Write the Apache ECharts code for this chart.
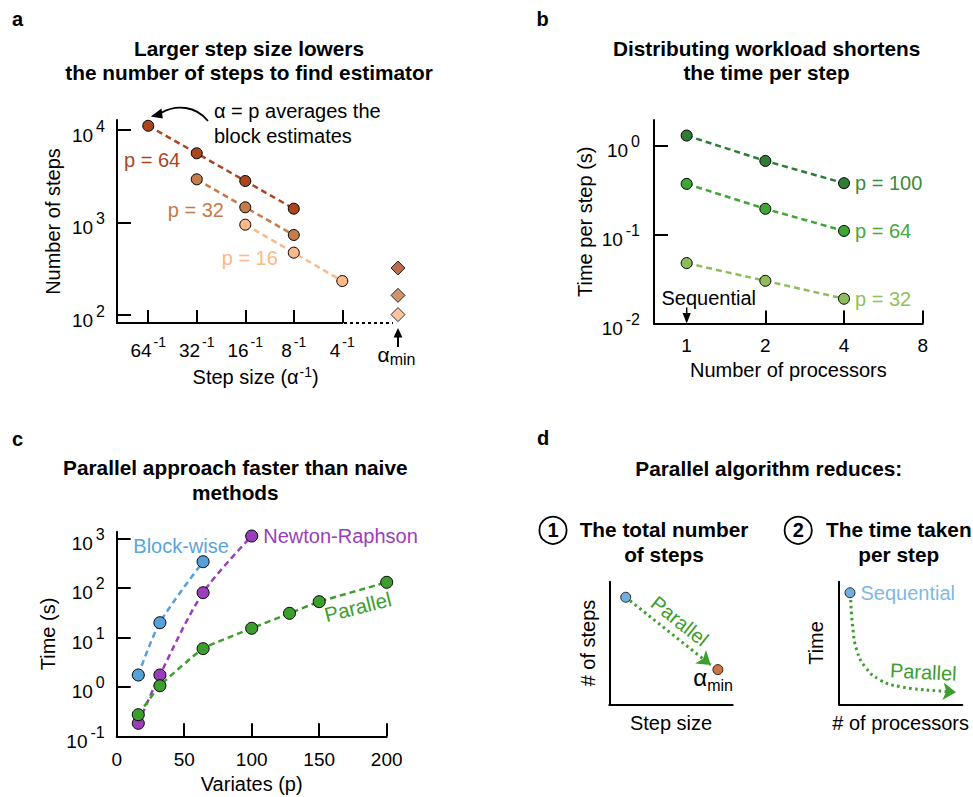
<!DOCTYPE html>
<html><head><meta charset="utf-8">
<script src="https://cdn.jsdelivr.net/npm/echarts@6.0.0/dist/echarts.min.js"></script>
<style>html,body{margin:0;padding:0;background:#fff}#chart{width:973px;height:797px}</style>
</head><body><div id="chart"></div>
<script>
// ---------------- data ----------------
// panel a : number of steps vs step size
const stepTicks = [1/64, 1/32, 1/16, 1/8, 1/4];
const yTicksA = [100, 1000, 10000];
const stepP64 = [1/64, 1/32, 1/16, 1/8];
const nStepsP64 = [11100, 5600, 2810, 1410];
const stepP32 = [1/32, 1/16, 1/8];
const nStepsP32 = [2930, 1460, 733];
const stepP16 = [1/16, 1/8, 1/4];
const nStepsP16 = [947, 472, 233];
const alphaMinStep = 0.554;              // where α_min is placed on the step axis
const alphaMinSteps = [322, 163, 101];   // p = 64, 32, 16
// panel b : time per step vs processors
const procTicks = [1, 2, 4, 8];
const yTicksB = [0.01, 0.1, 1];
const processors = [1, 2, 4];
const tpsP100 = [1.30, 0.674, 0.379];
const tpsP64 = [0.372, 0.195, 0.110];
const tpsP32 = [0.0478, 0.0302, 0.0190];
// panel c : time vs variates
const variateTicks = [0, 50, 100, 150, 200];
const yTicksC = [0.1, 1, 10, 100, 1000];
const blockP = [16, 32, 64];
const blockT = [1.73, 19.7, 336];
const nrP = [16, 32, 64, 100];
const nrT = [0.183, 1.73, 79.6, 1110];
const parP = [16, 32, 64, 100, 128, 150, 200];
const parT = [0.273, 1.05, 5.9, 15.2, 30.5, 52.4, 129];
// panel d : schematics on unit axes
const d1Points = [[0.133, 0.873], [0.880, 0.283]];
const d1Arrow = [[0.168, 0.845], [0.822, 0.321]];
const d2Dot = [[0.089, 0.910]];
const d2Curve = [[0.095,0.851],[0.111,0.633],[0.144,0.443],[0.211,0.307],[0.333,0.198],[0.495,0.144],[0.711,0.117]];
const d2ArrowTip = [0.949, 0.098];

// ---------------- style ----------------
const FONT = '"Liberation Sans", Arial, Helvetica, sans-serif';
const A_DARK = '#a9461d', A_MID = '#c57b4a', A_LIGHT = '#fbb888';
const B_DARK = '#2f7d34', B_MID = '#3ea635', B_LIGHT = '#8ebc5b';
const C_BLUE = '#56a2d8', C_PURPLE = '#9a3dbd', C_GREEN = '#3c9e2c';
const D_BLUE = '#4f9ad2', D_ORANGE = '#c0501d', D_GREEN = '#3c9e2c';
const log10 = Math.log10, log2 = Math.log2;
const zip = (xs, ys, fx, fy) => xs.map((x, i) => [fx(x), fy(ys[i])]);
const tk = (t) => ({ fontFamily: FONT, color: '#000', ...t });

const supY = { b: tk({ fontSize: 19, padding: [10, 0, 0, 0] }), s: tk({ fontSize: 16, padding: [0, 0, 8, 3] }) };
const supX = { b: tk({ fontSize: 19 }), s: tk({ fontSize: 14, padding: [0, 0, 17, 2] }) };
const pow10Fmt = v => `{b|10}{s|${Math.round(v)}}`;

function axis(o) {
  return {
    type: 'value', gridIndex: o.g, min: o.min, max: o.max, position: o.pos,
    axisLine: { show: true, onZero: false, lineStyle: { color: '#000', width: 2 } },
    axisTick: { show: !!o.ticks, inside: true, length: o.tl || 13, customValues: o.ticks,
      lineStyle: { color: '#000', width: 2 } },
    axisLabel: { show: !!o.labels, customValues: o.labels, formatter: o.fmt, margin: o.margin,
      color: '#000', fontSize: 19, fontFamily: FONT, rich: o.rich, hideOverlap: false },
    splitLine: { show: false }, splitArea: { show: false },
    name: o.name, nameLocation: 'middle', nameGap: o.gap, nameMoveOverlap: false,
    nameTextStyle: Object.assign({ color: '#000', fontSize: 20, fontFamily: FONT }, o.nts || {}),
    silent: true
  };
}

function lineS(g, data, color, extra) {
  return Object.assign({
    type: 'line', xAxisIndex: g, yAxisIndex: g, data, clip: false,
    symbol: 'circle', symbolSize: 11, showSymbol: true, silent: true, animation: false,
    lineStyle: { color, width: 2.5, type: [6, 4] },
    itemStyle: { color, borderColor: '#000', borderWidth: 1 },
    emphasis: { disabled: true }
  }, extra || {});
}
function endLabel(text, color, n) {
  return { label: { show: true, position: 'right', distance: 5, color, fontSize: 20, fontFamily: FONT,
    formatter: p => (p.dataIndex === n - 1 ? text : '') } };
}

const xAxes = [
  axis({ g: 0, pos: 'bottom', min: log2(0.01), max: log2(0.25), ticks: stepTicks.map(log2), labels: stepTicks.map(log2),
    fmt: v => `{b|${Math.round(Math.pow(2, -v))}}{s|-1}`, rich: supX, margin: 11.5, tl: 13,
    name: '{n|Step size (α}{s|-1}{n|)}', gap: 42,
    nts: { padding: [0, 0, 0, 52], rich: { n: tk({ fontSize: 20 }), s: tk({ fontSize: 14, padding: [0, 0, 10, 1] }) } } }),
  axis({ g: 1, pos: 'bottom', min: log2(0.75), max: 3, ticks: [2, 4, 8].map(log2), labels: procTicks.map(log2),
    fmt: v => String(Math.round(Math.pow(2, v))), margin: 12, tl: 13, name: 'Number of processors', gap: 36.5 }),
  axis({ g: 2, pos: 'bottom', min: 0, max: 200, ticks: [50, 100, 150, 200], labels: variateTicks,
    fmt: v => String(v), margin: 13.4, tl: 13, name: 'Variates (p)', gap: 37.4 }),
  axis({ g: 3, pos: 'bottom', min: 0, max: 1, name: 'Step size', gap: 8.7 }),
  axis({ g: 4, pos: 'bottom', min: 0, max: 1, name: '# of processors', gap: 8.7 })
];
const yAxes = [
  axis({ g: 0, pos: 'left', min: 2 - 8 / 92.5, max: 4 + 10 / 92.5, ticks: yTicksA.map(log10), labels: yTicksA.map(log10),
    fmt: pow10Fmt, rich: supY, margin: 12, tl: 14, name: 'Number of steps', gap: 54.5 }),
  axis({ g: 1, pos: 'left', min: -2, max: 0.289, ticks: [0.1, 1].map(log10), labels: yTicksB.map(log10),
    fmt: pow10Fmt, rich: supY, margin: 14, tl: 14, name: 'Time per step (s)', gap: 59 }),
  axis({ g: 2, pos: 'left', min: -1, max: 3.133, ticks: [1, 10, 100, 1000].map(log10), labels: yTicksC.map(log10),
    fmt: pow10Fmt, rich: supY, margin: 12, tl: 14, name: 'Time (s)', gap: 59 }),
  axis({ g: 3, pos: 'left', min: 0, max: 1, name: '# of steps', gap: 11.8 }),
  axis({ g: 4, pos: 'left', min: 0, max: 1, name: 'Time', gap: 13.5 })
];

const series = [
  lineS(0, zip(stepP64, nStepsP64, log2, log10), A_DARK),
  lineS(0, zip(stepP32, nStepsP32, log2, log10), A_MID),
  lineS(0, zip(stepP16, nStepsP16, log2, log10), A_LIGHT),
  { type: 'scatter', xAxisIndex: 0, yAxisIndex: 0, clip: false, silent: true, animation: false,
    symbol: 'diamond', symbolSize: 14, emphasis: { disabled: true },
    itemStyle: { borderColor: '#000', borderWidth: 1 },
    data: alphaMinSteps.map((v, i) => ({ value: [log2(alphaMinStep), log10(v)], itemStyle: { color: [A_DARK, A_MID, A_LIGHT][i] } })) },

  lineS(1, zip(processors, tpsP100, log2, log10), B_DARK, endLabel('p = 100', '#3b8b3e', processors.length)),
  lineS(1, zip(processors, tpsP64, log2, log10), B_MID, endLabel('p = 64', '#47a83c', processors.length)),
  lineS(1, zip(processors, tpsP32, log2, log10), B_LIGHT, endLabel('p = 32', '#8fbf5e', processors.length)),

  lineS(2, zip(blockP, blockT, x => x, log10), C_BLUE, { smooth: 0.3, symbolSize: 12 }),
  lineS(2, zip(nrP, nrT, x => x, log10), C_PURPLE, { smooth: 0.3, symbolSize: 12 }),
  lineS(2, zip(parP, parT, x => x, log10), C_GREEN, { smooth: 0.15, symbolSize: 12 }),

  { type: 'scatter', xAxisIndex: 3, yAxisIndex: 3, clip: false, silent: true, animation: false,
    symbol: 'circle', symbolSize: 10, emphasis: { disabled: true },
    itemStyle: { borderColor: '#000', borderWidth: 1 },
    data: d1Points.map((p, i) => ({ value: p, itemStyle: { color: [D_BLUE, D_ORANGE][i] } })),
    markLine: { silent: true, animation: false, symbol: ['none', 'arrow'], symbolSize: 13,
      lineStyle: { color: D_GREEN, width: 3, type: [2.5, 3.5] },
      label: { show: true, position: 'insideMiddleTop', distance: 5, formatter: 'Parallel',
        color: D_GREEN, fontSize: 20, fontFamily: FONT },
      emphasis: { disabled: true },
      data: [[{ coord: d1Arrow[0] }, { coord: d1Arrow[1] }]] } },

  { type: 'line', xAxisIndex: 4, yAxisIndex: 4, clip: false, silent: true, animation: false,
    data: d2Curve, smooth: 0.5, symbol: 'none',
    lineStyle: { color: D_GREEN, width: 3, type: [2.5, 3.5] }, emphasis: { disabled: true },
    markLine: { silent: true, animation: false, symbol: ['none', 'arrow'], symbolSize: 13,
      lineStyle: { color: D_GREEN, width: 3, type: [2.5, 3.5] }, label: { show: false },
      emphasis: { disabled: true },
      data: [[{ coord: d2Curve[d2Curve.length - 1] }, { coord: d2ArrowTip }]] } },
  { type: 'scatter', xAxisIndex: 4, yAxisIndex: 4, clip: false, silent: true, animation: false,
    symbol: 'circle', symbolSize: 10, emphasis: { disabled: true },
    itemStyle: { color: D_BLUE, borderColor: '#000', borderWidth: 1 },
    label: { show: true, position: 'right', distance: 5, formatter: 'Sequential', color: '#5aa5db', fontSize: 20, fontFamily: FONT },
    data: d2Dot }
];

// ---------------- annotations ----------------
function txt(x, y, text, o) {
  o = o || {};
  const al = o.align || 'left';
  return { type: 'text', x, y, rotation: o.rot || 0, silent: true, z: 10,
    style: { text, fill: o.color || '#000', fontSize: o.size || 20, fontWeight: o.bold ? 'bold' : 'normal',
      fontFamily: FONT, align: al, textAlign: al, verticalAlign: 'middle', textVerticalAlign: 'middle',
      lineHeight: o.lh, rich: o.rich } };
}
const line = (x1, y1, x2, y2, w, dash) => ({ type: 'line', silent: true, z: 10,
  shape: { x1, y1, x2, y2 }, style: { stroke: '#000', lineWidth: w, lineDash: dash } });
const tri = (pts) => ({ type: 'polygon', silent: true, z: 10, shape: { points: pts }, style: { fill: '#000' } });
const circ = (cx, cy) => ({ type: 'circle', silent: true, z: 10, shape: { cx, cy, r: 13.6 }, style: { fill: 'none', stroke: '#000', lineWidth: 1.8 } });

const graphic = [
  txt(17.5, 19, 'a', { bold: true, align: 'center' }),
  txt(542.7, 18.5, 'b', { bold: true, align: 'center' }),
  txt(17.5, 439.3, 'c', { bold: true, align: 'center' }),
  txt(543, 438.3, 'd', { bold: true, align: 'center' }),
  txt(249, 60.4, 'Larger step size lowers\nthe number of steps to find estimator', { bold: true, size: 20.8, align: 'center', lh: 24.7 }),
  txt(766.6, 60.4, 'Distributing workload shortens\nthe time per step', { bold: true, size: 20.8, align: 'center', lh: 24.7 }),
  txt(235.3, 479.8, 'Parallel approach faster than naive\nmethods', { bold: true, size: 20.8, align: 'center', lh: 24.7 }),
  txt(768.8, 468.5, 'Parallel algorithm reduces:', { bold: true, size: 20.8, align: 'center' }),
  circ(553, 530.3), txt(553, 530.3, '1', { bold: true, align: 'center' }),
  circ(798.2, 530.3), txt(798.2, 530.3, '2', { bold: true, align: 'center' }),
  txt(664, 542, 'The total number\nof steps', { bold: true, size: 20.8, align: 'center', lh: 25 }),
  txt(898.8, 542, 'The time taken\nper step', { bold: true, size: 20.8, align: 'center', lh: 25 }),

  // panel a annotations
  txt(214, 123.7, 'α = p averages the\nblock estimates', { lh: 24.7 }),
  { type: 'bezierCurve', silent: true, z: 10, shape: { x1: 208, y1: 121, cpx1: 196, cpy1: 106, cpx2: 176, cpy2: 104, x2: 161, y2: 113 },
    style: { stroke: '#000', lineWidth: 1.8, fill: 'none' } },
  tri([[150.8, 116.5], [161.5, 108.6], [162.8, 118.4]]),
  txt(124, 159.8, 'p = 64', { color: A_DARK }),
  txt(167.8, 209.8, 'p = 32', { color: A_MID }),
  txt(221.7, 258, 'p = 16', { color: A_LIGHT }),
  line(344, 323, 393, 323, 2, [3, 3]),
  line(398, 347, 398, 335, 2),
  tri([[398, 328], [393.6, 337.5], [402.4, 337.5]]),
  txt(377.5, 354, '{a|α}{m|min}', { rich: { a: tk({ fontSize: 21 }), m: tk({ fontSize: 16, padding: [10, 0, 0, 0] }) } }),

  // panel b annotations
  txt(661.5, 297.5, 'Sequential'),
  line(686.7, 307.5, 686.7, 315, 1.5),
  tri([[686.7, 323.5], [682.6, 313], [690.8, 313]]),

  // panel c annotations
  txt(133.3, 546, 'Block-wise', { color: '#5aa5db' }),
  txt(263.3, 536.3, 'Newton-Raphson', { color: C_PURPLE }),
  txt(357.7, 606.7, 'Parallel', { color: C_GREEN, align: 'center', rot: 14 * Math.PI / 180, size: 20.5 }),

  // panel d annotations
  txt(693.3, 677.5, '{a|α}{m|min}', { rich: { a: tk({ fontSize: 24, color: D_ORANGE }), m: tk({ fontSize: 16, color: D_ORANGE, padding: [15, 0, 0, 0] }) } }),
  txt(923.3, 672, 'Parallel', { color: D_GREEN, align: 'center', rot: -0.05 })
];

const chart = echarts.init(document.getElementById('chart'), null, { renderer: 'svg' });
chart.setOption({
  animation: false,
  backgroundColor: '#fff',
  textStyle: { fontFamily: FONT },
  grid: [
    { left: 117, top: 120, width: 225.3, height: 203, containLabel: false, outerBoundsMode: 'none' },
    { left: 654, top: 120, width: 268.7, height: 203.5, containLabel: false, outerBoundsMode: 'none' },
    { left: 116.7, top: 531.7, width: 270, height: 204.6, containLabel: false, outerBoundsMode: 'none' },
    { left: 609.3, top: 581.7, width: 123.4, height: 122.6, containLabel: false, outerBoundsMode: 'none' },
    { left: 839, top: 581.7, width: 123.3, height: 122.6, containLabel: false, outerBoundsMode: 'none' }
  ],
  xAxis: xAxes,
  yAxis: yAxes,
  series,
  graphic
});
</script>
</body></html>
